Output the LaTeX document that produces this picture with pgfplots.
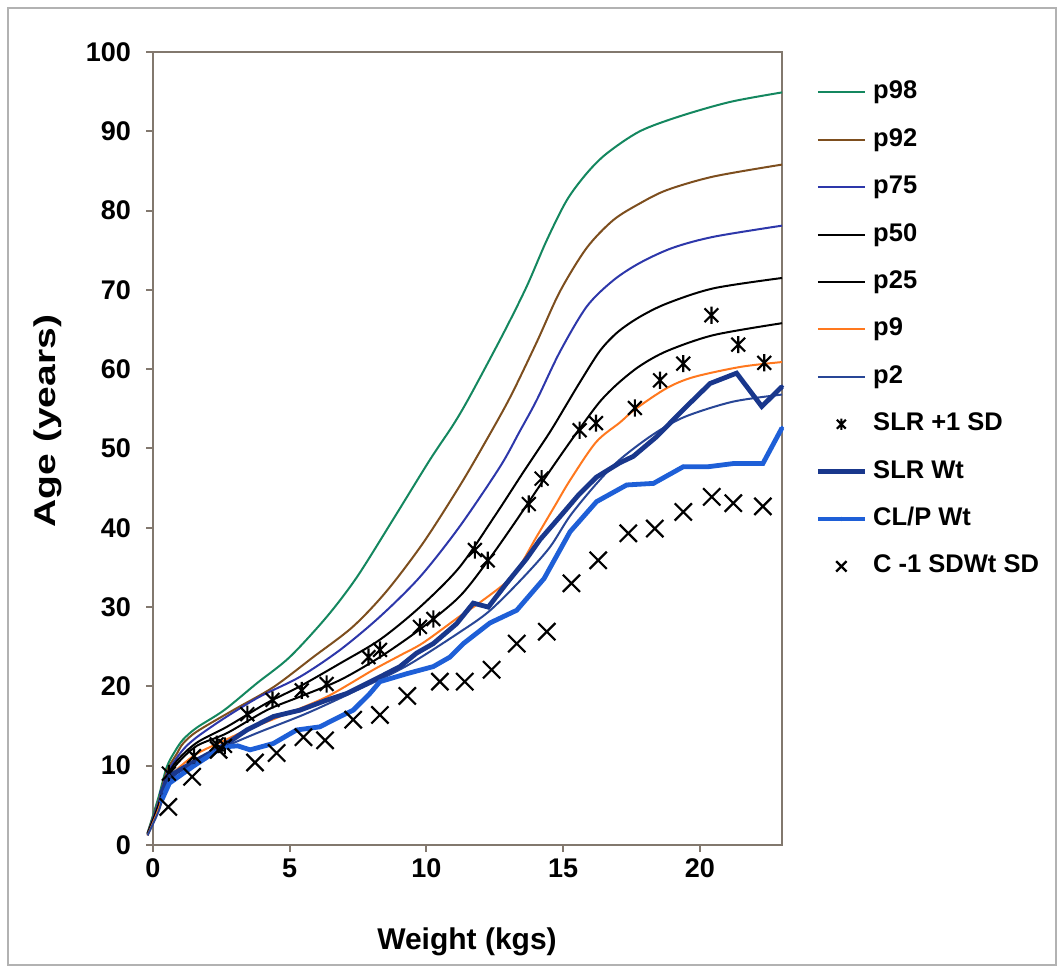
\documentclass[border=0pt]{standalone}
\usepackage{fontspec}
\setmainfont{Liberation Sans}
\usepackage{pgfplots}
\pgfplotsset{compat=1.18}
\definecolor{cG}{RGB}{20,135,95}
\definecolor{cBr}{RGB}{125,78,30}
\definecolor{cB75}{RGB}{45,55,170}
\definecolor{cOr}{RGB}{255,120,30}
\definecolor{cP2}{RGB}{40,70,150}
\definecolor{cSLR}{RGB}{25,55,140}
\definecolor{cCLP}{RGB}{30,95,215}
\definecolor{axc}{RGB}{130,120,110}
\pgfdeclareplotmark{xast}{%
 \pgfpathmoveto{\pgfqpoint{-0.8\pgfplotmarksize}{-0.8\pgfplotmarksize}}%
 \pgfpathlineto{\pgfqpoint{0.8\pgfplotmarksize}{0.8\pgfplotmarksize}}%
 \pgfpathmoveto{\pgfqpoint{-0.8\pgfplotmarksize}{0.8\pgfplotmarksize}}%
 \pgfpathlineto{\pgfqpoint{0.8\pgfplotmarksize}{-0.8\pgfplotmarksize}}%
 \pgfpathmoveto{\pgfqpoint{0pt}{-\pgfplotmarksize}}%
 \pgfpathlineto{\pgfqpoint{0pt}{\pgfplotmarksize}}%
 \pgfusepathqstroke}
\pgfdeclareplotmark{xcross}{%
 \pgfpathmoveto{\pgfqpoint{-\pgfplotmarksize}{-\pgfplotmarksize}}%
 \pgfpathlineto{\pgfqpoint{\pgfplotmarksize}{\pgfplotmarksize}}%
 \pgfpathmoveto{\pgfqpoint{-\pgfplotmarksize}{\pgfplotmarksize}}%
 \pgfpathlineto{\pgfqpoint{\pgfplotmarksize}{-\pgfplotmarksize}}%
 \pgfusepathqstroke}
\pgfplotsset{
  astlegend/.style={legend image code/.code={\draw[##1,mark size=2.8pt] plot coordinates {(11.75pt,0pt)};}},
  xlegend/.style={legend image code/.code={\draw[##1,mark size=2.6pt] plot coordinates {(11.75pt,0pt)};}},
}
\begin{document}
\begin{tikzpicture}
\draw[gray!60, line width=0.8pt] (4pt,3.5pt) rectangle (528pt,482pt);
\begin{axis}[
  at={(76.5pt,63.5pt)}, anchor=south west,
  scale only axis, width=314.5pt, height=396.5pt,
  xmin=0, xmax=23, ymin=0, ymax=100,
  xtick={0,5,10,15,20}, ytick={0,10,...,100},
  tick align=outside, tick pos=left,
  major tick length=3.5pt,
  axis line style={draw=axc, line width=1pt},
  every tick/.style={draw=axc, line width=1pt},
  tick label style={font=\fontsize{13.5}{16}\selectfont\bfseries},
  yticklabel style={xshift=-4pt},
  /pgf/number format/assume math mode=true,
  label style={font=\fontsize{15}{18}\selectfont\bfseries},
  xlabel={Weight (kgs)}, ylabel={\scalebox{1.3}[1]{Age (years)}},
  xlabel style={at={(axis description cs:0.4992,-0.1223)}, anchor=center},
  ylabel style={at={(axis description cs:-0.1677,0.5347)}, anchor=center},
  clip=false,
  legend cell align=left,
  legend style={at={(1.0525,0.9666)}, anchor=north west, draw=none, fill=none,
    inner sep=0pt, row sep=10.2pt, column sep=2pt,
    font=\fontsize{12.75}{15}\selectfont\bfseries,
    nodes={inner sep=1pt, text height=9pt, text depth=2.5pt}},
  legend image code/.code={\draw[mark repeat=2,mark phase=2,#1] plot coordinates {(0pt,0pt) (11.75pt,0pt) (23.5pt,0pt)};},
]
% p98
\addplot[cG, line width=1pt, smooth, no markers] coordinates {
(-0.2,1.5) (0.2,6) (0.5,9.8) (0.8,11.8) (1.1,13.3) (1.6,14.8) (2.6,17.0) (3.8,20.4) (5.0,23.7) (6.36,28.8) (7.46,33.8) (8.77,41.0) (10.13,48.6) (10.98,53.0) (11.59,56.6) (12.81,64.5) (13.66,70.4) (14.39,76.2) (15.13,81.3) (15.86,84.7) (16.59,87.2) (17.8,90.0) (19.27,91.9) (21.1,93.7) (23,94.9)};
\addlegendentry{p98}
% p92
\addplot[cBr, line width=1pt, smooth, no markers] coordinates {
(-0.2,1.5) (0.2,5.5) (0.5,9.3) (0.87,11.5) (1.1,12.8) (1.6,14.3) (2.93,17.0) (4.4,19.9) (5.86,23.7) (7.3,27.5) (8.54,32.0) (9.88,38.1) (11.2,45.2) (12.1,50.5) (13.05,56.4) (14.03,63.4) (14.88,69.8) (15.86,75.3) (16.83,78.8) (17.8,80.9) (18.8,82.6) (20.5,84.3) (23,85.8)};
\addlegendentry{p92}
% p75
\addplot[cB75, line width=1pt, smooth, no markers] coordinates {
(-0.2,1.4) (0.2,5.3) (0.5,8.9) (0.87,11.0) (1.23,12.5) (1.72,13.9) (2.7,16.2) (3.9,18.7) (5.37,21.2) (6.84,24.6) (8.3,28.8) (9.76,33.8) (11.2,40.1) (12.69,47.7) (13.4,52.1) (14.03,56.1) (14.88,62.2) (15.86,67.9) (16.83,71.2) (17.8,73.4) (19.0,75.3) (20.5,76.7) (23,78.1)};
\addlegendentry{p75}
% p50
\addplot[black, line width=1pt, smooth, no markers] coordinates {
(-0.2,1.4) (0.2,5) (0.5,8.5) (0.87,10.6) (1.6,12.9) (2.7,14.9) (4.16,17.9) (5.37,20.0) (6.84,22.9) (8.3,25.9) (9.76,30.0) (11.2,35.0) (12.5,41.5) (13.5,46.8) (14.5,52.0) (15.13,55.6) (15.6,58.3) (16.34,62.3) (17.0,64.7) (17.8,66.6) (18.8,68.3) (20.5,70.2) (23,71.5)};
\addlegendentry{p50}
% p25
\addplot[black, line width=1pt, smooth, no markers] coordinates {
(-0.2,1.3) (0.2,4.8) (0.5,8.2) (0.87,10.2) (1.6,12.5) (2.7,14.1) (4.16,17.0) (5.37,18.7) (6.84,20.8) (8.3,23.7) (9.76,27.2) (11.2,31.3) (12.26,35.9) (13.2,40.5) (14.2,45.6) (15.0,49.6) (15.6,52.5) (16.34,55.9) (17.0,58.2) (17.8,60.4) (18.8,62.3) (20.5,64.3) (23,65.8)};
\addlegendentry{p25}
% p9
\addplot[cOr, line width=1pt, smooth, no markers] coordinates {
(-0.2,1.2) (0.2,4.5) (0.5,7.8) (0.87,9.5) (1.6,11.5) (2.5,13.0) (3.43,14.5) (4.64,16.2) (6.36,18.7) (8.06,22.1) (9.03,23.9) (9.88,25.5) (11.2,28.8) (12.0,30.7) (13.17,34.0) (14.03,38.9) (14.7,42.8) (15.25,46.0) (16.2,50.8) (17.08,53.3) (17.65,55.0) (18.78,57.6) (19.76,59.0) (21.5,60.3) (23,60.9)};
\addlegendentry{p9}
% p2
\addplot[cP2, line width=1pt, smooth, no markers] coordinates {
(-0.2,1.2) (0.2,4.2) (0.5,7.3) (0.87,9.0) (1.6,10.8) (2.5,12.2) (3.79,14.1) (5.62,16.6) (7.45,19.5) (9.28,22.6) (11.2,26.8) (12.3,29.5) (13.5,33.6) (14.5,37.5) (15.25,41.5) (16.2,45.5) (17.07,48.6) (18.3,51.8) (19.45,54.0) (21.2,55.9) (23,56.8)};
\addlegendentry{p2}
% SLR +1 SD
\addplot[black, only marks, mark=xast, mark size=4.3pt, line width=1.05pt, astlegend] coordinates {
(0.58,9.0) (1.5,11.2) (2.33,12.7) (2.63,12.5) (3.45,16.5) (4.37,18.3) (5.44,19.5) (6.35,20.3) (7.88,23.7) (8.3,24.6) (9.76,27.5) (10.25,28.5) (11.77,37.2) (12.24,35.9) (13.74,43.0) (14.21,46.2) (15.6,52.3) (16.2,53.2) (17.62,55.1) (18.54,58.6) (19.39,60.7) (20.42,66.8) (21.4,63.1) (22.35,60.8)};
\addlegendentry{SLR +1 SD}
% SLR Wt
\addplot[cSLR, line width=2.4pt, mark=*, mark size=0.9pt, mark options={line width=0.3pt}] coordinates {
(0.3,6.5) (0.6,8.7) (1.5,10.5) (2.3,12.0) (2.7,12.8) (3.43,14.5) (4.4,16.2) (5.37,17.0) (6.3,18.2) (7.08,19.1) (8.3,21.2) (9.03,22.5) (9.64,24.2) (10.25,25.4) (11.1,27.9) (11.71,30.5) (12.26,30.0) (12.93,33.0) (13.66,36.1) (14.15,38.5) (14.88,41.4) (15.55,44.1) (16.22,46.4) (17.07,48.2) (17.56,49.0) (18.42,51.5) (19.39,54.9) (20.37,58.2) (21.34,59.5) (22.26,55.3) (23,57.8)};
\addlegendentry{SLR Wt}
% CL/P Wt
\addplot[cCLP, line width=2.4pt, mark=*, mark size=0.9pt, mark options={line width=0.3pt}] coordinates {
(0.3,5.5) (0.6,7.8) (1.5,10.0) (2.3,11.8) (2.69,12.4) (3.1,12.5) (3.55,12.0) (4.4,12.8) (5.25,14.5) (6.1,14.9) (6.84,16.2) (7.32,17.0) (7.93,19.1) (8.3,20.6) (9.28,21.6) (10.25,22.5) (10.86,23.7) (11.35,25.4) (12.32,28.0) (13.3,29.6) (14.3,33.6) (15.25,39.5) (16.22,43.3) (17.32,45.4) (18.3,45.6) (19.39,47.7) (20.3,47.7) (21.22,48.1) (22.3,48.1) (23,52.6)};
\addlegendentry{CL/P Wt}
% C -1 SD
\addplot[black, only marks, mark=xcross, mark size=4.3pt, line width=1.1pt, xlegend] coordinates {
(0.56,4.8) (1.43,8.6) (2.4,12.0) (3.73,10.4) (4.52,11.6) (5.5,13.6) (6.29,13.2) (7.32,15.8) (8.3,16.4) (9.3,18.8) (10.49,20.6) (11.4,20.6) (12.38,22.1) (13.3,25.4) (14.4,26.9) (15.3,33.0) (16.28,35.9) (17.38,39.3) (18.35,39.9) (19.39,42.0) (20.43,43.9) (21.22,43.1) (22.3,42.7)};
\addlegendentry{C -1 SDWt SD}
\end{axis}
\pgfresetboundingbox
\useasboundingbox (0pt,0pt) rectangle (531.5pt,486pt);
\end{tikzpicture}
\end{document}
